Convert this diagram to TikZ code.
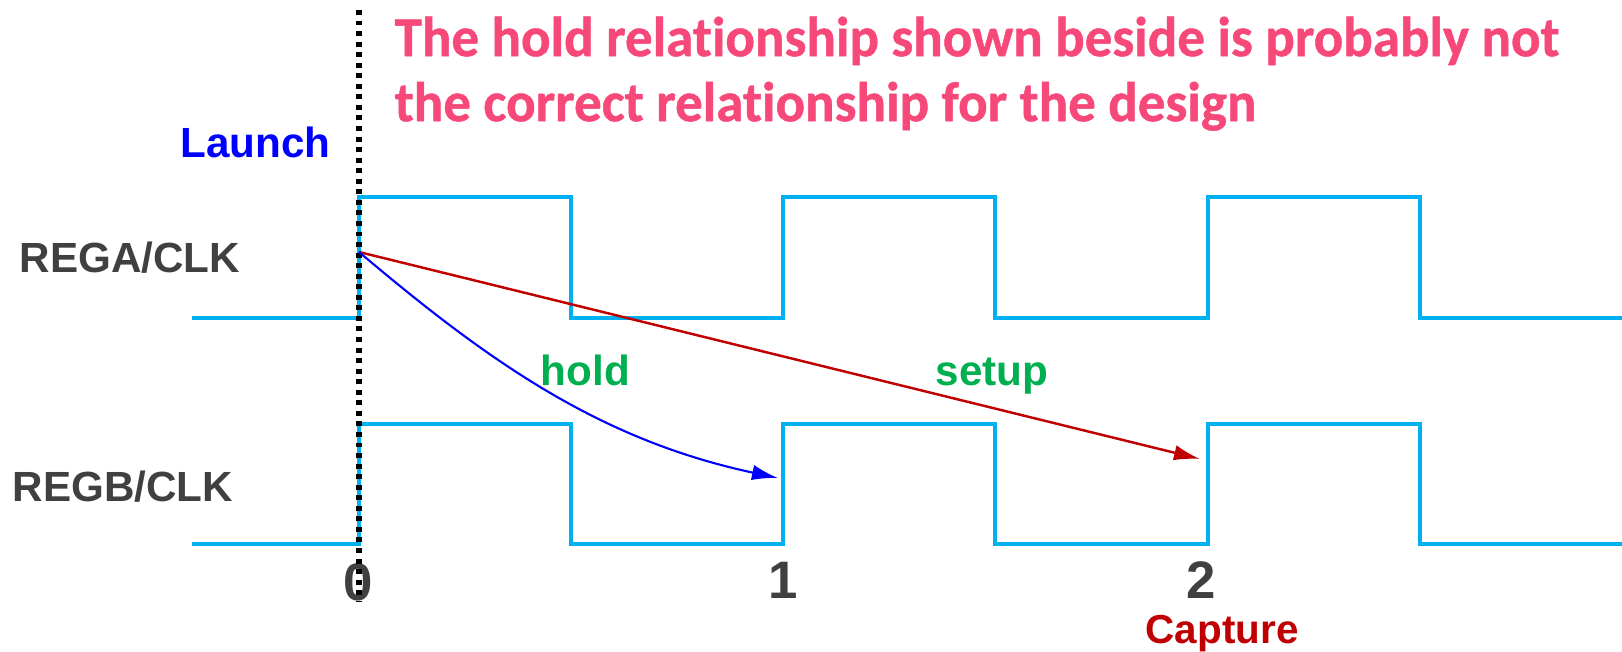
\documentclass[tikz,border=0pt]{standalone}
\usepackage{fontspec}
\setmainfont{Liberation Sans}
\newfontfamily\notefont[FakeStretch=0.977,FakeBold=0.8,Ligatures=NoCommon]{Carlito}
\usepackage{xcolor}
\usetikzlibrary{arrows.meta,positioning,calc}
\definecolor{clkcolor}{RGB}{0,176,240}
\definecolor{notecolor}{RGB}{246,72,121}
\definecolor{holdcolor}{RGB}{0,176,80}
\definecolor{capturecolor}{RGB}{192,0,0}
\definecolor{labelcolor}{RGB}{64,64,64}

\begin{document}
\begin{tikzpicture}[x=0.01cm,y=-0.01cm,>={Latex[length=7.4pt,width=4.4pt]},every node/.style={font=\fontsize{12}{14}\selectfont\bfseries,inner sep=0pt}]
\useasboundingbox (0,0) rectangle (1622,652);
\foreach \lo/\hi in {318/197,544/424}{\draw[clkcolor,line width=1.2pt](192,\lo) -| (359,\hi) -| (571,\lo) -| (783,\hi) -| (995,\lo) -| (1208,\hi) -| (1420,\lo) -- (1622,\lo);}
\node[anchor=north west,align=left,text=notecolor,font=\notefont\fontsize{16}{18.5}\selectfont\bfseries](note) at (394,16){The hold relationship shown beside is probably not\\the correct relationship for the design};
\node[anchor=base east,text=blue](launch) at (331,158){Launch};
\node[anchor=base west,text=labelcolor](rega) at (19,273){REGA/CLK};
\node[anchor=base west,text=labelcolor](regb) at (12,501){REGB/CLK};
\node[anchor=base west,text=holdcolor](hold) at (540,385){hold};
\node[anchor=base west,text=holdcolor](setup) at (935,385){setup};
\node[anchor=base,text=labelcolor,font=\fontsize{15}{18}\selectfont\bfseries](t0) at (358,600){0};
\node[anchor=base,text=labelcolor,font=\fontsize{15}{18}\selectfont\bfseries](t1) at (783,598){1};
\node[anchor=base,text=labelcolor,font=\fontsize{15}{18}\selectfont\bfseries](t2) at (1201,598){2};
\node[anchor=base west,text=capturecolor,font=\fontsize{11.5}{14}\selectfont\bfseries](capture) at (1145,643){Capture};
\draw[black,line width=1.5pt,dash pattern=on 1.4pt off 1.6pt](359,10)--(359,602);
\coordinate (launchpt) at (359,252); \coordinate (holdpt) at (778,478); \coordinate (setuppt) at (1200,459);
\draw[->,capturecolor,line width=0.7pt](launchpt)--(setuppt); \draw[->,blue,line width=0.6pt](launchpt) .. controls (489,362) and (600,440) .. (holdpt);
\end{tikzpicture}
\end{document}
